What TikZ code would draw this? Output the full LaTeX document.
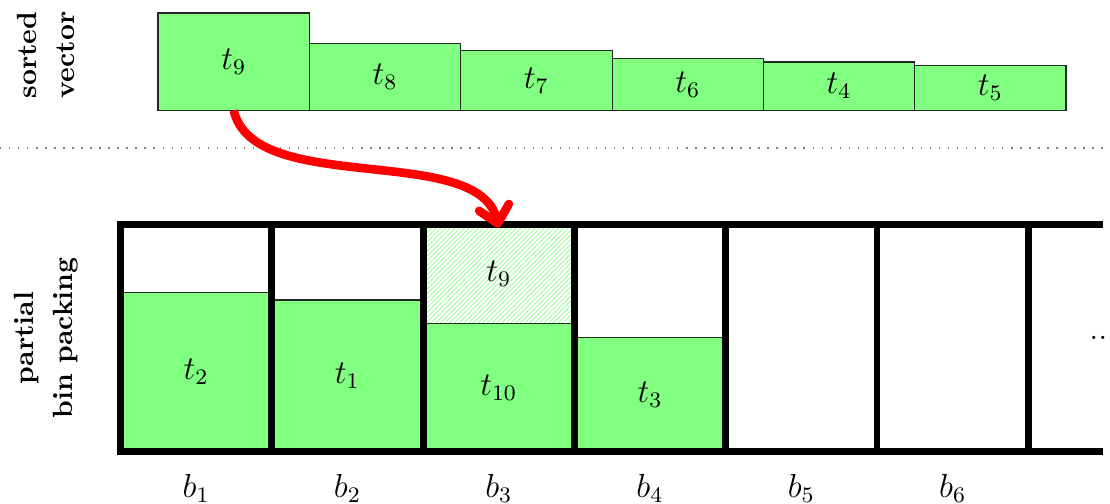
\documentclass[tikz,border=0pt]{standalone}
\usetikzlibrary{arrows.meta,patterns.meta,fit}
\begin{document}
\begin{tikzpicture}[x=0.36pt,y=-0.36pt,
  item/.style={draw=black!85,line width=0.4pt,fill=green!50,inner sep=0pt,outer sep=0pt},
  hatch/.style={draw=black!85,line width=0.4pt,pattern={Lines[angle=45,distance=1.2pt,line width=0.25pt]},pattern color=green!45,inner sep=0pt,outer sep=0pt},
  lab/.style={font=\large,inner sep=0pt},
  binline/.style={line width=2.5pt,black},
  side/.style={font=\bfseries,align=center,rotate=90},
  binlab/.style={anchor=base,font=\large},
  move/.style={red,line width=3.1pt,-{Straight Barb[round,length=6pt,width=11pt]}}]
\useasboundingbox (0,0) rectangle (1110,504);

% sorted vector
\node[item,fit={(158,13)(309.5,110.5)}] (v9) {};
\node[item,fit={(309.5,43.3)(460.8,110.5)}] (v8) {};
\node[item,fit={(460.8,50.7)(612.1,110.5)}] (v7) {};
\node[item,fit={(612.1,58.3)(763.4,110.5)}] (v6) {};
\node[item,fit={(763.4,62)(914.7,110.5)}] (v4) {};
\node[item,fit={(914.7,65.3)(1066,110.5)}] (v5) {};
\node[lab] (v9t) at (v9.center) {$t_9$};
\node[lab] (v8t) at (v8.center) {$t_8$};
\node[lab] (v7t) at (v7.center) {$t_7$};
\node[lab] (v6t) at (v6.center) {$t_6$};
\node[lab] (v4t) at (v4.center) {$t_4$};
\node[lab] (v5t) at (v5.center) {$t_5$};

% separator
\draw[gray,dash pattern=on 0.5pt off 2.75pt] (0,148) -- (1110,148);

% partial bin packing
\node[item,fit={(120.5,292.3)(271.8,451.5)}] (p2) {};
\node[item,fit={(271.8,300)(423.1,451.5)}] (p1) {};
\node[item,fit={(423.1,323.3)(574.4,451.5)}] (p10) {};
\node[hatch,fit={(423.1,224.5)(574.4,323.3)}] (p9) {};
\node[item,fit={(574.4,337.7)(725.7,451.5)}] (p3) {};
\node[lab] (p2t) at (p2.center) {$t_2$};
\node[lab] (p1t) at (p1.center) {$t_1$};
\node[lab] (p10t) at (p10.center) {$t_{10}$};
\node[lab] (p9t) at (p9.center) {$t_9$};
\node[lab] (p3t) at (p3.center) {$t_3$};

\draw[binline] (117,224.5) -- (1103,224.5);
\draw[binline] (117,451.5) -- (1103,451.5);
\foreach \x in {120.5,271.8,423.1,574.4,725.7,877,1028.3}
  \draw[binline] (\x,224.5) -- (\x,451.5);

\foreach \i/\x in {1/196.2,2/347.5,3/498.8,4/650,5/801.4,6/952.7}
  \node[binlab] (b\i) at (\x,498) {$b_{\i}$};

\node[anchor=base,font=\large] (more) at (1103,339.5) {...};

% side labels
\node[side] (lv) at (46,55) {sorted\\[2pt]vector};
\node[side] (lp) at (46,338) {partial\\[2pt]bin packing};

% move arrow
\draw[move] (v9.south) .. controls +(20,87) and +(-20,-86) .. ([yshift=-1.2pt]p9.north);
\end{tikzpicture}
\end{document}
